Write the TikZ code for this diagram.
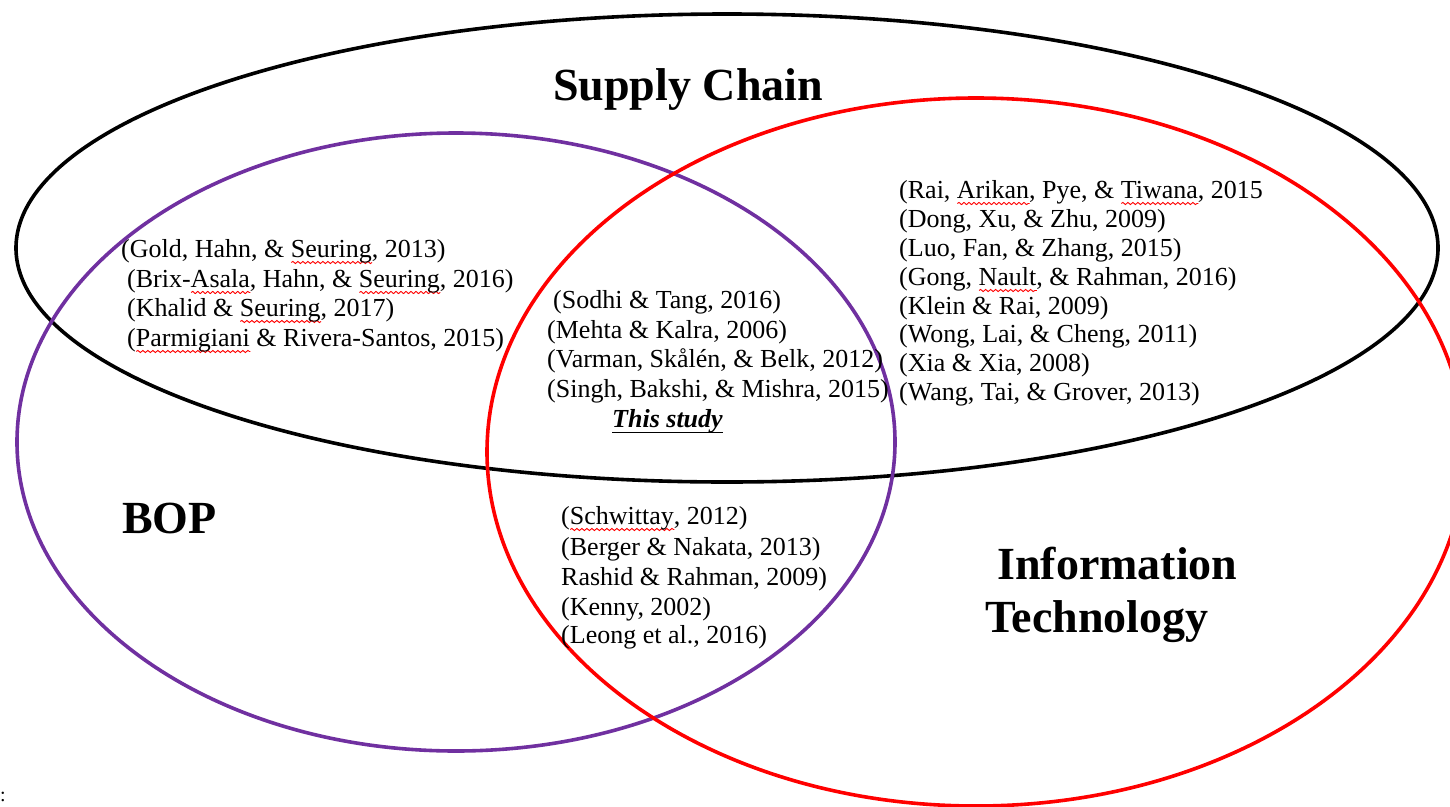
\documentclass[tikz,border=0pt]{standalone}
\usepackage{fontspec}
\setmainfont{Liberation Serif}
\usetikzlibrary{decorations.pathmorphing}
\definecolor{vennpurple}{HTML}{7030A0}
\definecolor{vennred}{HTML}{FF0000}
% red wavy mark under flagged words
\newbox\spellbox
\newdimen\spellwd
\newcommand\spellmark[1]{%
  \setbox\spellbox\hbox{#1}\spellwd=\wd\spellbox
  \rlap{\tikz[baseline=0pt,x=1pt,y=1pt]\draw[vennred, line width=0.9pt,
      decorate, decoration={snake, amplitude=1.1pt, segment length=5pt}]
      (0pt,-5.5pt) -- (\spellwd,-5.5pt);}%
  \box\spellbox}
\tikzset{
  cite/.style={anchor=base west, inner sep=0pt, font=\fontsize{26}{30}\selectfont},
  heading/.style={anchor=base west, inner sep=0pt, font=\fontsize{46}{52}\selectfont\bfseries},
  setline/.style={line width=3.6pt},
}
\begin{document}
\begin{tikzpicture}[x=1pt,y=-1pt]
\useasboundingbox (0,0) rectangle (1450,806);
\begin{scope}
\clip (0,0) rectangle (1450,806);
% the three sets
\draw[setline, black] (727,248) ellipse [x radius=711pt, y radius=234pt];
\draw[setline, vennpurple] (456,442) ellipse [x radius=439pt, y radius=309pt];
\draw[setline, vennred] (976,452) ellipse [x radius=489pt, y radius=354pt];
\end{scope}

% set titles
\node[heading] (sc) at (553,100) {Supply Chain};
\node[heading] (bop) at (122,533) {BOP};
\node[heading] (it1) at (997,579) {Information};
\node[heading] (it2) at (985,632) {Technology};

% supply chain and BOP
\node[cite] (l1) at (121,257) {(Gold, Hahn, \& \spellmark{Seuring}, 2013)};
\node[cite] (l2) at (127,287) {(Brix-\spellmark{Asala}, Hahn, \& \spellmark{Seuring}, 2016)};
\node[cite] (l3) at (127,316) {(Khalid \& \spellmark{Seuring}, 2017)};
\node[cite] (l4) at (127,346) {(\spellmark{Parmigiani} \& Rivera-Santos, 2015)};

% all three sets
\node[cite] (m1) at (553,308) {(Sodhi \& Tang, 2016)};
\node[cite] (m2) at (547,338) {(Mehta \& Kalra, 2006)};
\node[cite] (m3) at (547,367) {(Varman, Skålén, \& Belk, 2012)};
\node[cite] (m4) at (547,397) {(Singh, Bakshi, \& Mishra, 2015)};
\node[cite, font=\fontsize{26}{30}\selectfont\bfseries\itshape] (m5) at (612,427) {This study};
\draw[line width=1.8pt] ([yshift=-5.5pt]m5.base west) -- ([yshift=-5.5pt]m5.base east);

% supply chain and information technology
\node[cite] (r1) at (899,198) {(Rai, \spellmark{Arikan}, Pye, \& \spellmark{Tiwana}, 2015};
\node[cite] (r2) at (899,227) {(Dong, Xu, \& Zhu, 2009)};
\node[cite] (r3) at (899,256) {(Luo, Fan, \& Zhang, 2015)};
\node[cite] (r4) at (899,285) {(Gong, \spellmark{Nault}, \& Rahman, 2016)};
\node[cite] (r5) at (899,314) {(Klein \& Rai, 2009)};
\node[cite] (r6) at (899,342) {(Wong, Lai, \& Cheng, 2011)};
\node[cite] (r7) at (899,371) {(Xia \& Xia, 2008)};
\node[cite] (r8) at (899,400) {(Wang, Tai, \& Grover, 2013)};

% BOP and information technology
\node[cite] (b1) at (561,524) {(\spellmark{Schwittay}, 2012)};
\node[cite] (b2) at (561,555) {(Berger \& Nakata, 2013)};
\node[cite] (b3) at (561,585) {Rashid \& Rahman, 2009)};
\node[cite] (b4) at (561,615) {(Kenny, 2002)};
\node[cite] (b5) at (561,643) {(Leong et al., 2016)};

\node[anchor=base west, inner sep=0pt, font=\fontsize{20}{24}\selectfont] (colon) at (0,801) {:};
\end{tikzpicture}
\end{document}
